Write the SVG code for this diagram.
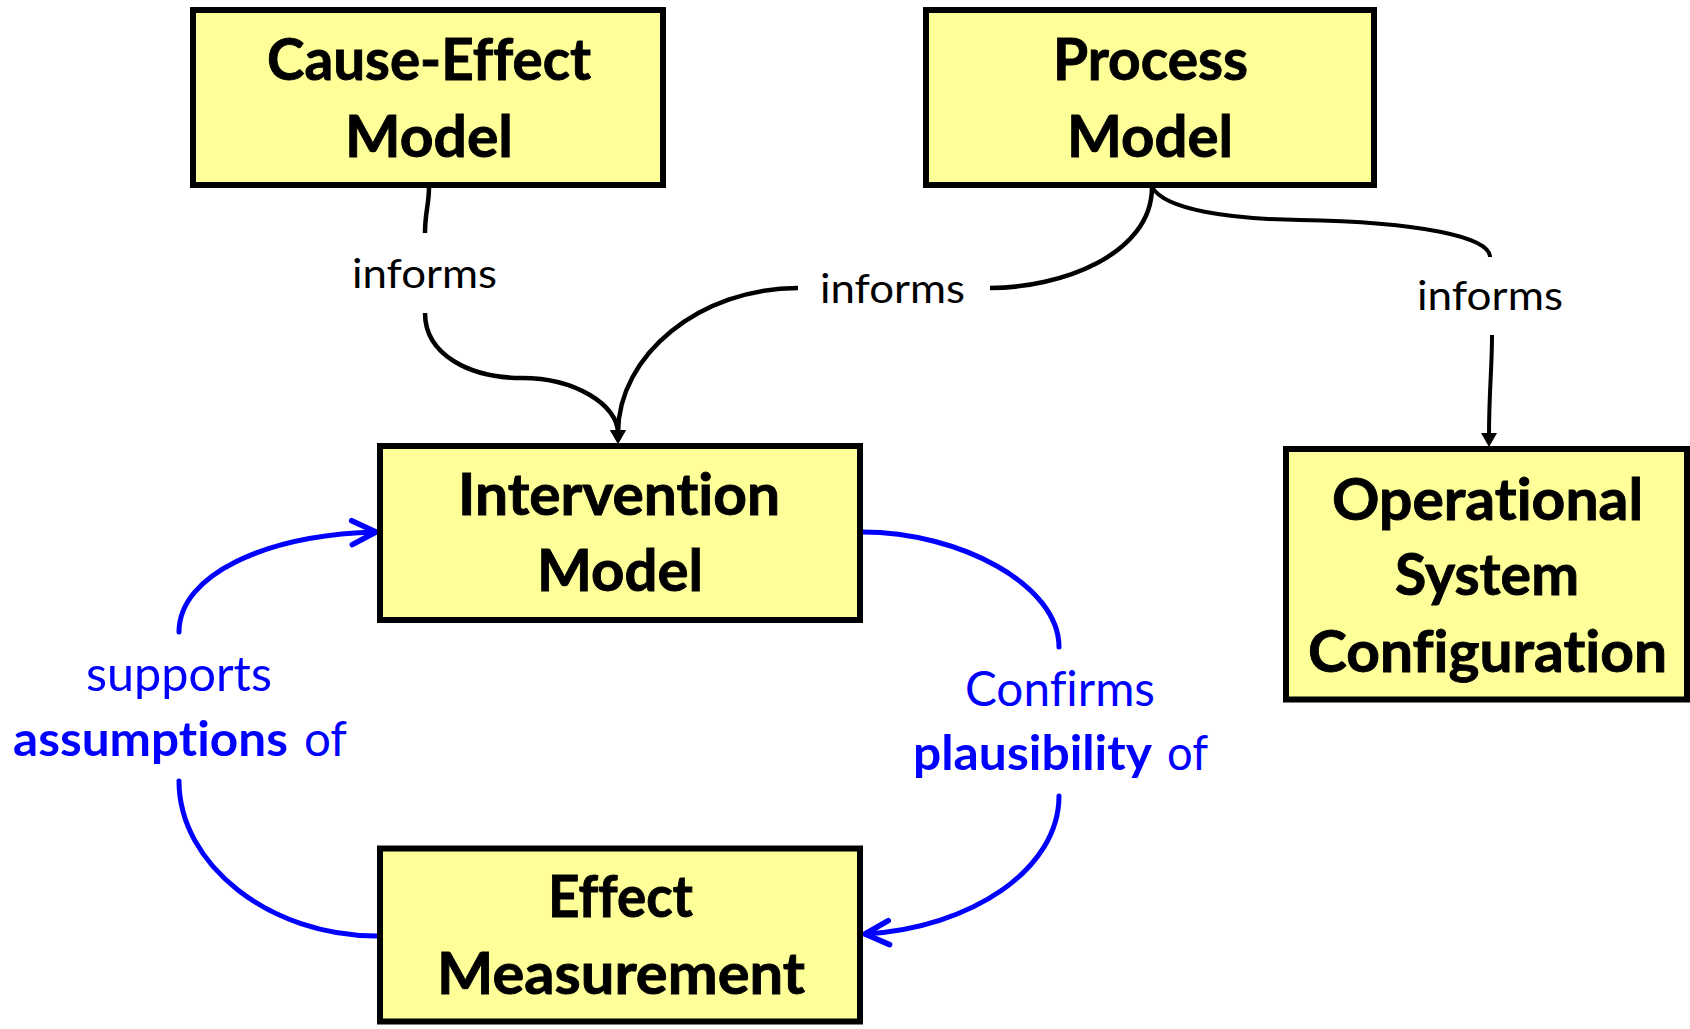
<svg xmlns="http://www.w3.org/2000/svg" width="1690" height="1029" viewBox="0 0 1690 1029">
  <style>
    text { font-variant-ligatures: none; }
    .node rect { fill: #FFFF99; stroke: #000; stroke-width: 6; }
    .node text { font-family: Lato, "Open Sans", "Liberation Sans", sans-serif; font-weight: bold; font-size: 58px; fill: #000; stroke: #000; stroke-width: 0.9; text-anchor: middle; }
    .link { fill: none; stroke: #000; stroke-width: 4.5; }
    .loop { fill: none; stroke: #0000FF; stroke-width: 5; stroke-linecap: round; }
    .lbl { font-family: Lato, "Open Sans", "Liberation Sans", sans-serif; font-size: 41px; fill: #000; text-anchor: middle; }
    .blbl { font-family: Lato, "Open Sans", "Liberation Sans", sans-serif; font-size: 48px; fill: #0000FF; }
    .b { font-weight: bold; }
  </style>
  <defs>
    <marker id="solid" viewBox="-1 -10 18 20" markerWidth="18" markerHeight="20" refX="3" refY="0" orient="auto" markerUnits="userSpaceOnUse">
      <path d="M0,-8 L14,0 L0,8 Z" fill="#000"/>
    </marker>
    <marker id="open" viewBox="-30 -16 34 32" markerWidth="34" markerHeight="32" refX="0" refY="0" orient="auto" markerUnits="userSpaceOnUse">
      <path d="M-24,-12 L0,0 L-24,12" fill="none" stroke="#0000FF" stroke-width="5.5" stroke-linecap="round" stroke-linejoin="round"/>
    </marker>
  </defs>

  <rect width="1690" height="1029" fill="#fff"/>

  <!-- connectors -->
  <g id="connectors">
    <g id="cause-to-intervention">
      <path class="link" d="M429,187 C429,205 425,212 425,233"/>
      <path class="link" d="M425,313 C425,355 470,378 522,378 C575,378 618,405 618,433" marker-end="url(#solid)"/>
      <text class="lbl" x="424.5" y="288" textLength="145" lengthAdjust="spacingAndGlyphs">informs</text>
    </g>
    <g id="process-to-intervention">
      <path class="link" d="M1152,187 C1152,255 1060,288 990,288"/>
      <path class="link" d="M798,288 C700,288 618,355 618,433" marker-end="url(#solid)"/>
      <text class="lbl" x="892.5" y="303" textLength="145" lengthAdjust="spacingAndGlyphs">informs</text>
    </g>
    <g id="process-to-operational">
      <path class="link" style="stroke-width:4" d="M1152,187 C1165,210 1230,219 1300,220 C1420,222 1490,237 1490,257"/>
      <path class="link" style="stroke-width:4" d="M1492,335 C1492,370 1489,390 1489,436" marker-end="url(#solid)"/>
      <text class="lbl" x="1490" y="310" textLength="146" lengthAdjust="spacingAndGlyphs">informs</text>
    </g>
    <g id="effect-to-intervention">
      <path class="loop" d="M377,936 C270,936 179,865 179,781"/>
      <path class="loop" d="M179,632 C179,575 265,535 376,532" marker-end="url(#open)"/>
      <text class="blbl" x="86" y="691" textLength="186" lengthAdjust="spacingAndGlyphs">supports</text>
      <text class="blbl" y="756"><tspan class="b" x="13" textLength="275" lengthAdjust="spacingAndGlyphs">assumptions</tspan><tspan x="304" textLength="43" lengthAdjust="spacingAndGlyphs">of</tspan></text>
    </g>
    <g id="intervention-to-effect">
      <path class="loop" d="M862,532 C960,532 1059,585 1059,647"/>
      <path class="loop" d="M1059,796 C1059,870 970,928 865,934" marker-end="url(#open)"/>
      <text class="blbl" x="965" y="706" textLength="190" lengthAdjust="spacingAndGlyphs">Confirms</text>
      <text class="blbl" y="770"><tspan class="b" x="913" textLength="239" lengthAdjust="spacingAndGlyphs">plausibility</tspan><tspan x="1167" textLength="41" lengthAdjust="spacingAndGlyphs">of</tspan></text>
    </g>
  </g>

  <!-- nodes -->
  <g id="cause-effect-model" class="node">
    <rect x="193" y="10" width="470" height="175"/>
    <text x="429" y="80" textLength="324" lengthAdjust="spacingAndGlyphs">Cause-Effect</text>
    <text x="429" y="157" textLength="168" lengthAdjust="spacingAndGlyphs">Model</text>
  </g>
  <g id="process-model" class="node">
    <rect x="926" y="10" width="448" height="175"/>
    <text x="1150.5" y="80" textLength="195" lengthAdjust="spacingAndGlyphs">Process</text>
    <text x="1150" y="157" textLength="166" lengthAdjust="spacingAndGlyphs">Model</text>
  </g>
  <g id="intervention-model" class="node">
    <rect x="380" y="446" width="480" height="174"/>
    <text x="619" y="515" textLength="322" lengthAdjust="spacingAndGlyphs">Intervention</text>
    <text x="620" y="591" textLength="166" lengthAdjust="spacingAndGlyphs">Model</text>
  </g>
  <g id="effect-measurement" class="node">
    <rect x="380" y="848.5" width="480" height="173"/>
    <text x="620.5" y="917" textLength="145" lengthAdjust="spacingAndGlyphs">Effect</text>
    <text x="621" y="994" textLength="368" lengthAdjust="spacingAndGlyphs">Measurement</text>
  </g>
  <g id="operational-system-configuration" class="node">
    <rect x="1286" y="449" width="401" height="250.5"/>
    <text x="1487.5" y="520" textLength="311" lengthAdjust="spacingAndGlyphs">Operational</text>
    <text x="1487" y="595" textLength="184" lengthAdjust="spacingAndGlyphs">System</text>
    <text x="1487.5" y="672" textLength="359" lengthAdjust="spacingAndGlyphs">Configuration</text>
  </g>
</svg>
